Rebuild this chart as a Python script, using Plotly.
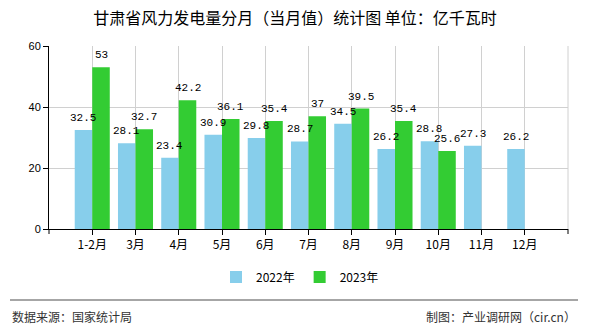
import plotly.graph_objects as go

categories = ["1-2月", "3月", "4月", "5月", "6月", "7月", "8月", "9月", "10月", "11月", "12月"]
values_2022 = [32.5, 28.1, 23.4, 30.9, 29.8, 28.7, 34.5, 26.2, 28.8, 27.3, 26.2]
values_2023 = [53, 32.7, 42.2, 36.1, 35.4, 37, 39.5, 35.4, 25.6, None, None]
series_names = ["2022年", "2023年"]
y_ticks = [0, 20, 40, 60]

CJK = "Noto Sans CJK SC"
label_font = dict(family="Liberation Mono", size=11, color="#000")

W, H = 590, 330
ML, MR, MT, MB = 49, 22, 46, 101
PW, PH = W - ML - MR, H - MT - MB
BARGAP = 0.19
slot = PW / (len(categories) + 1)
half_bar = slot * (1 - BARGAP) / 4  # offset of each bar centre from category centre

fig = go.Figure()
fig.add_trace(go.Bar(
    x=categories, y=values_2022, name=series_names[0],
    marker=dict(color="#87CEEB", line=dict(width=0)),
))
fig.add_trace(go.Bar(
    x=categories, y=values_2023, name=series_names[1],
    marker=dict(color="#33CC33", line=dict(width=0)),
))

# value labels drawn above all bars
for vals, sign in ((values_2022, -1), (values_2023, 1)):
    for c, v in zip(categories, vals):
        if v is None:
            continue
        fig.add_annotation(x=c, y=v, xref="x", yref="y", text=f"{v:g}",
                           showarrow=False, xanchor="center", yanchor="bottom",
                           xshift=sign * half_bar, yshift=5, borderpad=0, font=label_font)

fig.update_layout(
    width=W, height=H,
    margin=dict(l=ML, r=MR, t=MT, b=MB),
    paper_bgcolor="white", plot_bgcolor="white",
    barmode="group", bargap=BARGAP, bargroupgap=0,
    font=dict(family=CJK, size=12, color="#000"),
    title=dict(text="甘肃省风力发电量分月（当月值）统计图 单位：亿千瓦时",
               x=0.5, xanchor="center", y=1 - 18 / H, yanchor="middle",
               font=dict(family=CJK, size=16, color="#000")),
    showlegend=True,
    legend=dict(orientation="h", x=(216 - ML) / PW, xanchor="left", y=-48 / PH, yanchor="middle",
                font=dict(family=CJK, size=12, color="#000"), itemwidth=30),
)

fig.update_xaxes(
    type="category", range=[-1, len(categories)],
    showgrid=True, gridcolor="#D0D0D0", gridwidth=1,
    showline=True, linecolor="#000", linewidth=1,
    ticks="outside", ticklen=5, tickcolor="#000",
    tickfont=dict(family=CJK, size=12, color="#000"),
    zeroline=False,
)
fig.update_yaxes(
    range=[0, 60], tickvals=y_ticks,
    showgrid=True, gridcolor="#D0D0D0", gridwidth=1,
    showline=True, linecolor="#000", linewidth=1,
    ticks="outside", ticklen=5, tickcolor="#000",
    tickfont=dict(family="Liberation Sans", size=11, color="#000"),
    zeroline=False,
)

# right border
fig.add_shape(type="line", xref="paper", yref="paper", x0=1, x1=1, y0=0, y1=1,
              line=dict(color="#D0D0D0", width=1))
# end ticks on x axis
for xp in (0, 1):
    fig.add_shape(type="line", xref="paper", yref="paper", x0=xp, x1=xp, y0=0, y1=-5 / PH,
                  line=dict(color="#000", width=1))

# footer line
fig.add_shape(type="line", xref="paper", yref="paper",
              x0=(10 - ML) / PW, x1=(578 - ML) / PW,
              y0=-(300 - 229) / PH, y1=-(300 - 229) / PH,
              line=dict(color="#888", width=1.5))

fig.add_annotation(text="数据来源：国家统计局", xref="paper", yref="paper",
                   x=(10 - ML) / PW, xanchor="left", y=-(316 - 229) / PH, yanchor="middle",
                   showarrow=False, font=dict(family=CJK, size=12, color="#333"))
fig.add_annotation(text="制图：产业调研网（cir.cn）", xref="paper", yref="paper",
                   x=(578 - ML) / PW, xanchor="right", y=-(316 - 229) / PH, yanchor="middle",
                   showarrow=False, font=dict(family=CJK, size=12, color="#333"))

fig.write_html("out.html")
